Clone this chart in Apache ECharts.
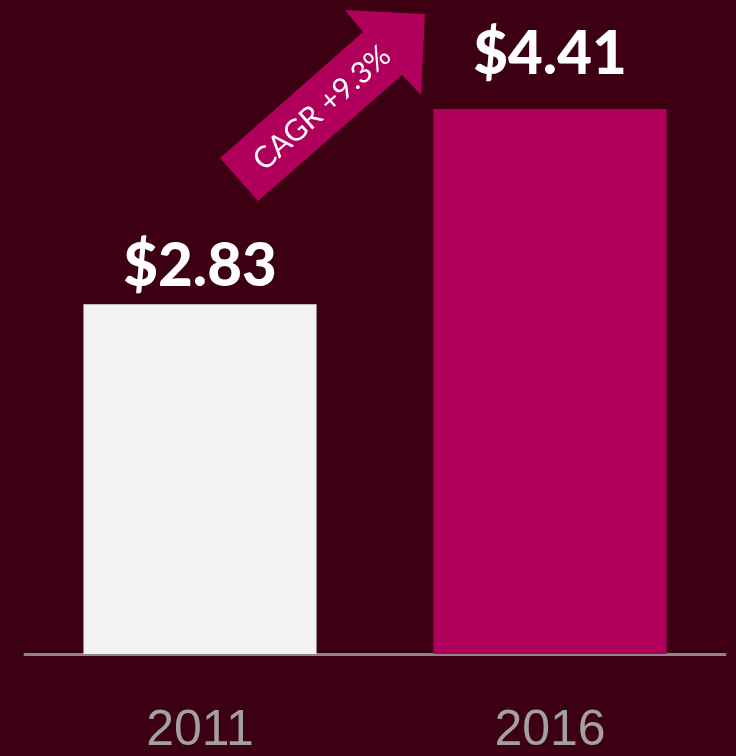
<!DOCTYPE html>
<html>
<head>
<meta charset="utf-8">
<style>
  html, body { margin: 0; padding: 0; background: #3c0012; }
  #chart { width: 736px; height: 756px; }
</style>
<script src="https://cdn.jsdelivr.net/npm/echarts@6/dist/echarts.min.js"></script>
</head>
<body>
<div id="chart"></div>
<script>
// Revenue per year (USD), with growth annotation
const years = ['2011', '2016'];
const values = [2.83, 4.41];
const barColors = ['#f2f2f2', '#b0005c'];
const labelGaps = [8, 24];
const cagrText = 'CAGR +9.3%';

const BG = '#3c0012';
const MAGENTA = '#b0005c';

const chart = echarts.init(document.getElementById('chart'));

chart.setOption({
  backgroundColor: BG,
  animation: false,
  grid: { left: 25, right: 11, top: 36, bottom: 101 },
  xAxis: {
    type: 'category',
    data: years,
    axisLine: { show: true, lineStyle: { color: '#8e868b', width: 3 } },
    axisTick: { show: false },
    axisLabel: {
      color: '#a39fa6',
      fontFamily: '"Liberation Sans Narrow", "Liberation Sans", sans-serif',
      fontSize: 50,
      margin: 52
    }
  },
  yAxis: {
    type: 'value',
    min: 0,
    max: 5,
    show: false,
    splitLine: { show: false }
  },
  series: [{
    type: 'bar',
    barWidth: '66.6%',
    data: values.map((v, i) => ({
      value: v,
      itemStyle: { color: barColors[i] },
      label: { distance: labelGaps[i] }
    })),
    label: {
      show: true,
      position: 'top',
      color: '#ffffff',
      fontFamily: 'Lato, sans-serif',
      fontWeight: 900,
      fontSize: 60,
      formatter: p => '$' + p.value.toFixed(2)
    }
  }],
  graphic: [
    {
      type: 'polygon',
      shape: {
        points: [
          [220, 158], [363, 32], [345, 10], [425, 14],
          [421, 95], [402, 75], [258, 201]
        ]
      },
      style: { fill: MAGENTA }
    },
    {
      type: 'text',
      x: 322,
      y: 108,
      rotation: 41.4 * Math.PI / 180,
      style: {
        text: cagrText,
        fill: '#ffffff',
        fontFamily: 'Lato, sans-serif',
        fontSize: 30,
        align: 'center',
        verticalAlign: 'middle'
      }
    }
  ]
});
</script>
</body>
</html>
